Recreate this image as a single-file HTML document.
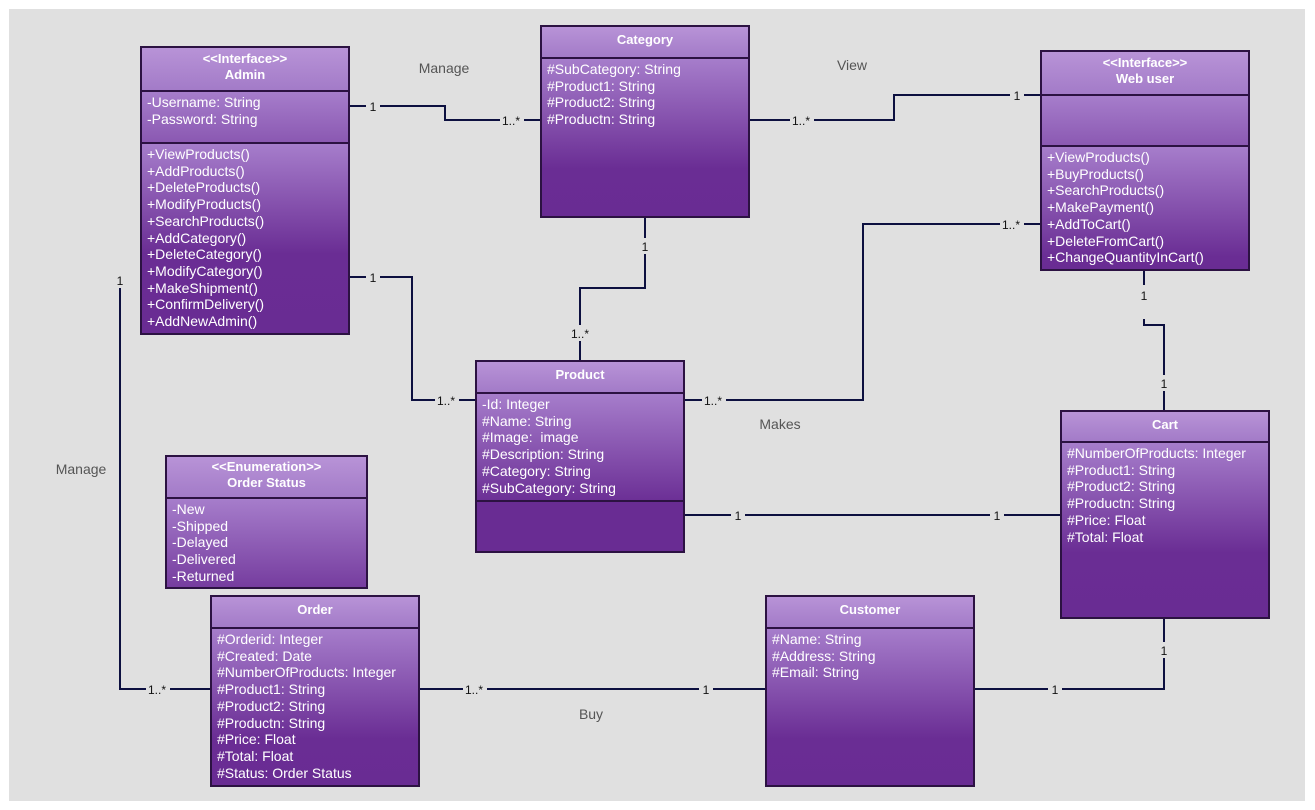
<!DOCTYPE html>
<html><head><meta charset="utf-8"><style>
body{margin:0;width:1315px;height:810px;background:#fff;position:relative;overflow:hidden;font-family:"Liberation Sans",sans-serif}
#bg{position:absolute;left:9px;top:9px;width:1296px;height:792px;background:#e0e0e0}
.box{position:absolute;border:2px solid #2c1242;box-sizing:border-box;background:#692c93;color:#fff}
.h{background:linear-gradient(#b893d7,#a37bc8);text-align:center;font-weight:bold;font-size:13px;border-bottom:2px solid #2c1242;box-sizing:border-box;display:flex;flex-direction:column;justify-content:center;line-height:16px;padding-bottom:4px}
.s{background:linear-gradient(#a67dcb 0,#6a2d94 110px,#692c93);box-sizing:border-box;padding:2px 5px;font-size:14px;line-height:16.7px;white-space:nowrap;overflow:hidden}
.bb{border-bottom:2px solid #2c1242}
svg{position:absolute;left:0;top:0}
.lb{font-size:12px;fill:#111}
.t{font-size:14px;fill:#555}
</style></head><body>
<div id="bg"></div>
<svg width="1315" height="810">
<g fill="none" stroke="#0d1040" stroke-width="2">
<polyline points="349,106 445,106 445,120 541,120"/>
<polyline points="749,120 894,120 894,95 1041,95"/>
<polyline points="645,217 645,288 580,288 580,361"/>
<polyline points="349,277 412,277 412,400 476,400"/>
<polyline points="684,400 863,400 863,224 1041,224"/>
<polyline points="1144,270 1144,325 1164,325 1164,411"/>
<polyline points="684,515 1061,515"/>
<polyline points="120,288 120,689 211,689"/>
<polyline points="419,689 766,689"/>
<polyline points="974,689 1164,689 1164,618"/>
</g>
<g fill="#e0e0e0">
<rect x="366" y="98" width="14" height="16"/><rect x="500" y="112" width="24" height="16"/>
<rect x="790" y="112" width="24" height="16"/><rect x="1010" y="87" width="14" height="16"/>
<rect x="638" y="238" width="14" height="16"/><rect x="568" y="325" width="24" height="16"/>
<rect x="366" y="269" width="14" height="16"/><rect x="435" y="392" width="24" height="16"/>
<rect x="702" y="392" width="24" height="16"/><rect x="1000" y="216" width="24" height="16"/>
<rect x="1137" y="285" width="14" height="34"/><rect x="1157" y="375" width="14" height="16"/>
<rect x="731" y="507" width="14" height="16"/><rect x="990" y="507" width="14" height="16"/>
<rect x="113" y="272" width="14" height="16"/><rect x="146" y="681" width="24" height="16"/>
<rect x="463" y="681" width="24" height="16"/><rect x="699" y="681" width="14" height="16"/>
<rect x="1048" y="681" width="14" height="16"/><rect x="1157" y="642" width="14" height="16"/>
</g>
<g class="lb" text-anchor="middle">
<text x="373" y="111">1</text><text x="511" y="125">1..*</text>
<text x="801" y="125">1..*</text><text x="1017" y="100">1</text>
<text x="645" y="251">1</text><text x="580" y="338">1..*</text>
<text x="373" y="282">1</text><text x="446" y="405">1..*</text>
<text x="713" y="405">1..*</text><text x="1011" y="229">1..*</text>
<text x="1144" y="300">1</text><text x="1164" y="388">1</text>
<text x="738" y="520">1</text><text x="997" y="520">1</text>
<text x="120" y="285">1</text><text x="157" y="694">1..*</text>
<text x="474" y="694">1..*</text><text x="706" y="694">1</text>
<text x="1055" y="694">1</text><text x="1164" y="655">1</text>
</g>
<g class="t" text-anchor="middle">
<text x="444" y="73">Manage</text><text x="852" y="70">View</text>
<text x="780" y="429">Makes</text><text x="81" y="474">Manage</text>
<text x="591" y="719">Buy</text>
</g>
</svg>

<div class="box" style="left:140px;top:46px;width:210px;height:289px">
<div class="h" style="height:44px">&lt;&lt;Interface&gt;&gt;<br>Admin</div>
<div class="s bb" style="height:52px">-Username: String<br>-Password: String</div>
<div class="s" style="height:189px">+ViewProducts()<br>+AddProducts()<br>+DeleteProducts()<br>+ModifyProducts()<br>+SearchProducts()<br>+AddCategory()<br>+DeleteCategory()<br>+ModifyCategory()<br>+MakeShipment()<br>+ConfirmDelivery()<br>+AddNewAdmin()</div>
</div>

<div class="box" style="left:540px;top:25px;width:210px;height:193px">
<div class="h" style="height:32px">Category</div>
<div class="s" style="height:157px">#SubCategory: String<br>#Product1: String<br>#Product2: String<br>#Productn: String</div>
</div>

<div class="box" style="left:1040px;top:50px;width:210px;height:221px">
<div class="h" style="height:44px">&lt;&lt;Interface&gt;&gt;<br>Web user</div>
<div class="s bb" style="height:51px"></div>
<div class="s" style="height:122px">+ViewProducts()<br>+BuyProducts()<br>+SearchProducts()<br>+MakePayment()<br>+AddToCart()<br>+DeleteFromCart()<br>+ChangeQuantityInCart()</div>
</div>

<div class="box" style="left:475px;top:360px;width:210px;height:193px">
<div class="h" style="height:32px">Product</div>
<div class="s bb" style="height:108px">-Id: Integer<br>#Name: String<br>#Image:&nbsp; image<br>#Description: String<br>#Category: String<br>#SubCategory: String</div>
<div class="s" style="height:49px;background:#692c93"></div>
</div>

<div class="box" style="left:1060px;top:410px;width:210px;height:209px">
<div class="h" style="height:31px">Cart</div>
<div class="s" style="height:174px">#NumberOfProducts: Integer<br>#Product1: String<br>#Product2: String<br>#Productn: String<br>#Price: Float<br>#Total: Float</div>
</div>

<div class="box" style="left:165px;top:455px;width:203px;height:134px">
<div class="h" style="height:42px">&lt;&lt;Enumeration&gt;&gt;<br>Order Status</div>
<div class="s" style="height:88px">-New<br>-Shipped<br>-Delayed<br>-Delivered<br>-Returned</div>
</div>

<div class="box" style="left:210px;top:595px;width:210px;height:192px">
<div class="h" style="height:32px">Order</div>
<div class="s" style="height:156px">#Orderid: Integer<br>#Created: Date<br>#NumberOfProducts: Integer<br>#Product1: String<br>#Product2: String<br>#Productn: String<br>#Price: Float<br>#Total: Float<br>#Status: Order Status</div>
</div>

<div class="box" style="left:765px;top:595px;width:210px;height:192px">
<div class="h" style="height:32px">Customer</div>
<div class="s" style="height:156px">#Name: String<br>#Address: String<br>#Email: String</div>
</div>
</body></html>
